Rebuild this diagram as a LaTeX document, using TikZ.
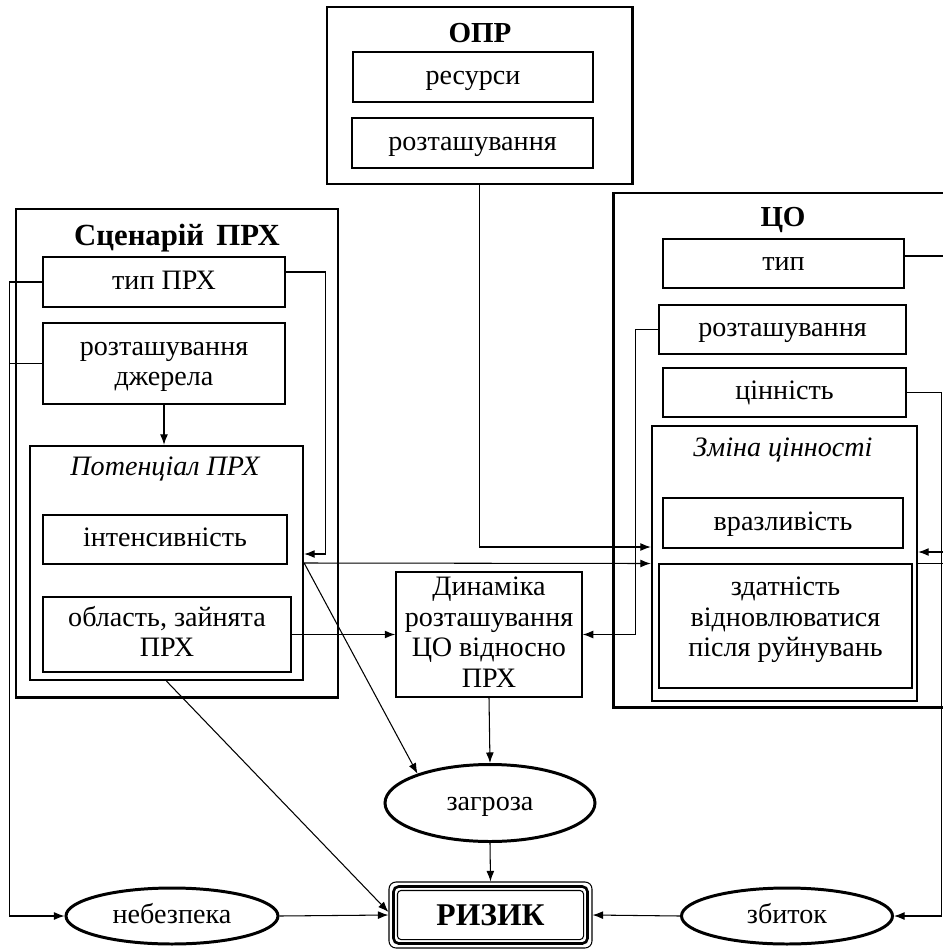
\documentclass[tikz,border=0pt]{standalone}
\usepackage{fontspec}
\setmainfont{Liberation Serif}
\usetikzlibrary{shapes.geometric,arrows.meta}

\tikzset{
  sz/.style 2 args={minimum width=#1*0.02cm, minimum height=#2*0.02cm},
  frame/.style={draw, line width=1.7pt, inner sep=0pt},
  subframe/.style={draw, line width=1.3pt, inner sep=0pt},
  box/.style={draw, line width=0.8pt, inner sep=0pt, align=center},
  % text block heights: baseline a little below the middle of the box
  oneline/.style={text height=12pt, text depth=4pt},
  twolines/.style={text height=29.6pt, text depth=4pt},
  threelines/.style={text height=47.2pt, text depth=12pt},
  fourlines/.style={text height=64.8pt, text depth=4pt},
  oval/.style={ellipse, draw, line width=1.7pt, inner sep=0pt, oneline},
  heading/.style={font=\fontsize{16.5}{19}\selectfont\bfseries},
  subheading/.style={font=\fontsize{16}{19}\selectfont\itshape},
  ln/.style={line width=0.6pt},
  arr/.style={ln, -{Latex[length=6pt,width=4.5pt]}},
}

\begin{document}
\begin{tikzpicture}[x=0.02cm, y=-0.02cm, font=\fontsize{16}{17.6}\selectfont]
\useasboundingbox (0,0) rectangle (943,950);
\clip (0,0) rectangle (943,950);

% ---- decision maker block
\node[frame, sz={305}{177}] (opr) at (479.5,95.5) {};
\node[heading] (oprtitle) at (480,33) {ОПР};
\node[box, oneline, sz={240}{50}] (oprres) at (473,77) {ресурси};
\node[box, oneline, sz={241}{50}] (oprloc) at (472.5,143) {розташування};

% ---- hazard scenario block
\node[frame, sz={322}{488}] (scen) at (177,453) {};
\node[heading, font=\fontsize{17.5}{19}\selectfont\bfseries] (scentitle) at (177,238) {Сценарій\hspace{0.4em}ПРХ};
\node[box, oneline, sz={242}{50}] (tip) at (164,282) {тип ПРХ};
\node[box, twolines, sz={242}{81}] (src) at (164,363.5) {розташування\\джерела};
\node[subframe, sz={273}{234}] (pot) at (166.5,563) {};
\node[subheading] (pottitle) at (165,469) {Потенціал ПРХ};
\node[box, oneline, sz={244}{49}] (int) at (165,539.5) {інтенсивність};
\node[box, twolines, sz={248}{75}] (area) at (167,634.5) {область, зайнята\\ПРХ};

% ---- exposed object block
\node[frame, sz={347}{514}] (co) at (786.5,450) {};
\node[heading] (cotitle) at (783,220) {ЦО};
\node[box, oneline, sz={241}{49}] (cotip) at (783.5,263.5) {тип};
\node[box, oneline, sz={247}{49}] (coloc) at (782.5,329.5) {розташування};
\node[box, oneline, sz={243}{49}] (coval) at (784.5,392.5) {цінність};
\node[subframe, sz={265}{275}] (chg) at (784.5,563.5) {};
\node[subheading] (chgtitle) at (783,450) {Зміна цінності};
\node[box, oneline, sz={240}{50}] (vul) at (783,523) {вразливість};
\node[box, threelines, sz={253}{124}] (rec) at (785.5,626) {здатність\\відновлюватися\\після руйнувань};

% ---- relative dynamics
\node[box, fourlines, sz={186}{125}] (dyn) at (489,634.5) {Динаміка\\розташування\\ЦО відносно\\ПРХ};

% ---- outcomes
\node[oval, sz={210}{77}] (threat) at (490,803) {загроза};
\node[oval, sz={212}{56}] (haz) at (172,916) {небезпека};
\node[oval, sz={211}{56}] (loss) at (787,916) {збиток};
\node[draw, line width=0.6pt, rounded corners=4pt, sz={203}{66}, inner sep=0pt,
      font=\fontsize{18}{20}\selectfont\bfseries] (risk) at (490.5,915) {РИЗИК};
\draw[line width=1.5pt, rounded corners=3pt]
  ([shift={(5,5)}]risk.north west) rectangle ([shift={(-5,-5)}]risk.south east);
\draw[line width=0.6pt, rounded corners=2pt]
  ([shift={(9,9)}]risk.north west) rectangle ([shift={(-9,-9)}]risk.south east);

% ---- free ends beyond the right border
\coordinate (edge) at (970,0);
\coordinate (chgin) at ([yshift=0.23cm]chg.east);
\coordinate (oprin) at ([yshift=0.33cm]chg.west);

% ---- connectors
\draw[arr] (tip.west) -- ++(-33,0) coordinate (lbend) |- (haz.west);
\draw[ln] (src.west) -- (src.west -| lbend);
\draw[arr] (src.south) -- (src.south |- pot.north);
\draw[arr] ([yshift=0.2cm]tip.east) -- ++(40,0) |- ([yshift=0.18cm]pot.east);
\draw[arr] (pot.east) -- (chg.west);
\draw[arr] (opr.south) |- (oprin);
\draw[arr] (pot.east) -- (threat.158);
\draw[arr] (pot.south) -- ([yshift=0.06cm]risk.west);
\draw[arr] (area.east) -- (dyn.west);
\draw[arr] (coloc.west) -- ++(-23,0) |- (dyn.east);
\draw[arr] (dyn.south) -- (threat.north);
\draw[arr] (threat.south) -- (risk.north);
\draw[arr] (haz.east) -- (risk.west);
\draw[arr] (loss.west) -- (risk.east);
\draw[arr] (coval.east) -- ++(35,0) |- (loss.east);
\draw[ln] ([yshift=0.15cm]cotip.east) -- ([yshift=0.15cm]cotip.east -| edge);
\draw[arr] (chgin -| edge) -- (chgin);
\draw[ln] (chg.east) -- (chg.east -| edge);
\end{tikzpicture}
\end{document}
